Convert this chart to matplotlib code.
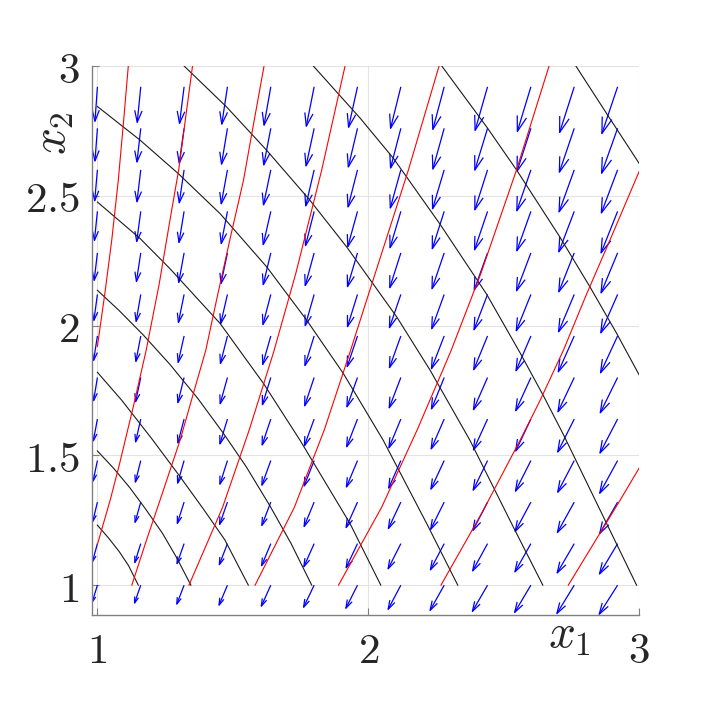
import matplotlib
matplotlib.use("Agg")
import matplotlib.pyplot as plt
import numpy as np
from matplotlib.collections import LineCollection

plt.rcParams['mathtext.fontset'] = 'cm'

# quiver grid (1:0.16:2.92 in both directions)
x_grid = [1.00, 1.16, 1.32, 1.48, 1.64, 1.80, 1.96, 2.12, 2.28, 2.44, 2.60, 2.76, 2.92]
y_grid = [1.00, 1.16, 1.32, 1.48, 1.64, 1.80, 1.96, 2.12, 2.28, 2.44, 2.60, 2.76, 2.92]

# arrow components as drawn, in thousandths of an axis unit (pointing left / down)
# one row per y_grid value, one column per x_grid value
u_left = [
    [19, 23, 27, 31, 35, 39, 43, 47, 52, 56, 60, 64, 68],
    [18, 22, 26, 30, 34, 38, 42, 47, 51, 55, 59, 63, 67],
    [17, 21, 25, 29, 33, 37, 42, 46, 50, 54, 58, 62, 66],
    [16, 20, 24, 28, 33, 37, 41, 45, 49, 53, 57, 61, 66],
    [15, 19, 23, 28, 32, 36, 40, 44, 48, 52, 56, 61, 65],
    [14, 19, 23, 27, 31, 35, 39, 43, 47, 52, 56, 60, 64],
    [14, 18, 22, 26, 30, 34, 38, 42, 47, 51, 55, 59, 63],
    [13, 17, 21, 25, 29, 33, 37, 42, 46, 50, 54, 58, 62],
    [12, 16, 20, 24, 28, 33, 37, 41, 45, 49, 53, 57, 61],
    [11, 15, 19, 23, 28, 32, 36, 40, 44, 48, 52, 57, 61],
    [10, 14, 18, 23, 27, 31, 35, 39, 43, 47, 52, 56, 60],
    [9, 14, 18, 22, 26, 30, 34, 38, 42, 47, 51, 55, 59],
    [9, 13, 17, 21, 25, 29, 33, 38, 42, 46, 50, 54, 58],
]
v_down = [
    [65, 69, 73, 77, 81, 85, 89, 93, 97, 101, 105, 109, 112],
    [69, 73, 77, 81, 85, 89, 93, 97, 101, 105, 109, 113, 117],
    [74, 78, 82, 86, 90, 94, 98, 102, 105, 109, 113, 117, 121],
    [79, 83, 87, 91, 95, 98, 102, 106, 110, 114, 118, 122, 126],
    [84, 88, 92, 96, 100, 103, 107, 111, 115, 119, 123, 127, 131],
    [89, 93, 97, 101, 105, 109, 113, 117, 121, 124, 128, 132, 136],
    [94, 98, 102, 106, 110, 114, 118, 122, 126, 130, 134, 138, 142],
    [100, 104, 108, 112, 116, 120, 124, 128, 132, 136, 140, 144, 148],
    [106, 110, 114, 118, 122, 126, 130, 134, 138, 142, 146, 150, 154],
    [112, 116, 120, 124, 128, 132, 136, 140, 144, 148, 152, 156, 160],
    [119, 123, 127, 131, 135, 139, 143, 147, 150, 154, 158, 162, 166],
    [126, 130, 134, 138, 141, 145, 149, 153, 157, 161, 165, 169, 173],
    [133, 137, 141, 144, 148, 152, 156, 160, 164, 168, 172, 176, 180],
]

# black level curves (x1 values, x2 values)
black_curves = [
    ([1.000, 1.040, 1.080, 1.115, 1.151], [1.231, 1.183, 1.130, 1.075, 1.000]),
    ([1.000, 1.060, 1.120, 1.180, 1.240, 1.293, 1.345], [1.517, 1.450, 1.375, 1.290, 1.200, 1.105, 1.000]),
    ([1.000, 1.090, 1.200, 1.300, 1.390, 1.470, 1.557], [1.820, 1.712, 1.565, 1.425, 1.295, 1.175, 1.000]),
    ([1.000, 1.080, 1.170, 1.268, 1.370, 1.465, 1.550, 1.637, 1.715, 1.791],
     [2.136, 2.058, 1.963, 1.850, 1.720, 1.585, 1.455, 1.305, 1.160, 1.000]),
    ([1.000, 1.158, 1.268, 1.453, 1.613, 1.748, 1.932, 2.046], [2.476, 2.335, 2.219, 2.008, 1.777, 1.558, 1.238, 1.000]),
    ([1.000, 1.158, 1.299, 1.453, 1.625, 1.773, 1.908, 2.055, 2.215, 2.330],
     [2.844, 2.714, 2.585, 2.431, 2.226, 2.020, 1.815, 1.558, 1.238, 1.000]),
    ([1.320, 1.477, 1.625, 1.785, 1.920, 2.105, 2.228, 2.375, 2.535, 2.644],
     [3.000, 2.842, 2.675, 2.482, 2.303, 2.033, 1.828, 1.558, 1.224, 1.000]),
    ([1.797, 1.969, 2.092, 2.265, 2.437, 2.560, 2.646, 2.720, 2.990],
     [3.000, 2.800, 2.645, 2.390, 2.120, 1.895, 1.730, 1.580, 1.000]),
    ([2.271, 2.437, 2.548, 2.707, 2.818, 2.917, 3.000], [3.000, 2.765, 2.598, 2.341, 2.149, 1.969, 1.809]),
    ([2.766, 2.880, 3.000], [3.000, 2.816, 2.624]),
]

# red level curves
red_curves = [
    ([1.114, 1.096, 1.077, 1.053, 1.027, 1.000], [3.000, 2.780, 2.559, 2.330, 2.120, 1.920]),
    ([1.351, 1.300, 1.270, 1.228, 1.180, 1.133, 1.080, 1.047, 1.000],
     [3.000, 2.600, 2.420, 2.160, 1.905, 1.690, 1.460, 1.327, 1.157]),
    ([1.615, 1.572, 1.539, 1.493, 1.440, 1.400, 1.354, 1.305, 1.231, 1.180, 1.127],
     [3.000, 2.752, 2.559, 2.350, 2.100, 1.905, 1.738, 1.558, 1.327, 1.170, 1.000]),
    ([1.914, 1.828, 1.732, 1.651, 1.561, 1.462, 1.338], [3.000, 2.600, 2.200, 1.900, 1.600, 1.300, 1.000]),
    ([2.261, 2.148, 2.025, 1.933, 1.838, 1.727, 1.582], [3.000, 2.600, 2.200, 1.900, 1.600, 1.300, 1.000]),
    ([2.667, 2.547, 2.415, 2.304, 2.181, 2.049, 1.890], [3.000, 2.600, 2.200, 1.900, 1.600, 1.300, 1.000]),
    ([3.000, 2.892, 2.805, 2.720, 2.634, 2.560, 2.420, 2.268], [2.595, 2.330, 2.120, 1.905, 1.712, 1.558, 1.280, 1.000]),
    ([3.000, 2.929, 2.738], [1.452, 1.327, 1.000]),
]

x_ticks = [1, 2, 3]
y_ticks = [1, 1.5, 2, 2.5, 3]

fig = plt.figure(figsize=(7.06, 7.06), dpi=100)
ax = fig.add_axes([0.1303, 0.1289, 0.7752, 0.7776])

# quiver, matlab style (line shaft + open head)
X, Y = np.meshgrid(x_grid, y_grid)
U = -np.array(u_left) / 1000.0
V = -np.array(v_down) / 1000.0
alpha, beta = 0.33, 0.30
tx, ty = X + U, Y + V
segs = []
for xx, yy, uu, vv, ex, ey in zip(X.ravel(), Y.ravel(), U.ravel(), V.ravel(), tx.ravel(), ty.ravel()):
    segs.append([(xx, yy), (ex, ey)])
    p1 = (ex - alpha * (uu + beta * vv), ey - alpha * (vv - beta * uu))
    p2 = (ex - alpha * (uu - beta * vv), ey - alpha * (vv + beta * uu))
    segs.append([p1, (ex, ey), p2])
ax.add_collection(LineCollection(segs, colors='#0000ff', linewidths=0.9, zorder=2))

for xs, ys in black_curves:
    ax.plot(xs, ys, color='#1a1a1a', lw=0.8, zorder=3)
for xs, ys in red_curves:
    ax.plot(xs, ys, color='#ff0000', lw=0.8, zorder=3)

ax.set_xlim(0.98, 3.0)
ax.set_ylim(0.885, 3.0)
ax.set_xticks(x_ticks)
ax.set_yticks(y_ticks)
ax.set_xticklabels(['$%g$' % t for t in x_ticks], fontsize=31)
ax.set_yticklabels(['$%g$' % t for t in y_ticks], fontsize=31)
ax.tick_params(axis='x', direction='in', length=5, width=0.8, color='#808080', pad=11, labelcolor='#262626')
ax.tick_params(axis='y', direction='in', length=5, width=0.8, color='#808080', pad=9, labelcolor='#262626')

ax.grid(True, color='#e3e3e3', lw=0.8)
ax.set_axisbelow(True)
for s in ['top', 'right']:
    ax.spines[s].set_visible(False)
for s in ['left', 'bottom']:
    ax.spines[s].set_color('#808080')
    ax.spines[s].set_linewidth(1.0)

ax.text(0.873, -0.038, '$x_1$', transform=ax.transAxes, fontsize=34,
        ha='center', va='center', color='#262626')
ax.text(-0.071, 0.878, '$x_2$', transform=ax.transAxes, fontsize=34,
        ha='center', va='center', rotation=90, color='#262626')

fig.savefig('out.png', dpi=100)
